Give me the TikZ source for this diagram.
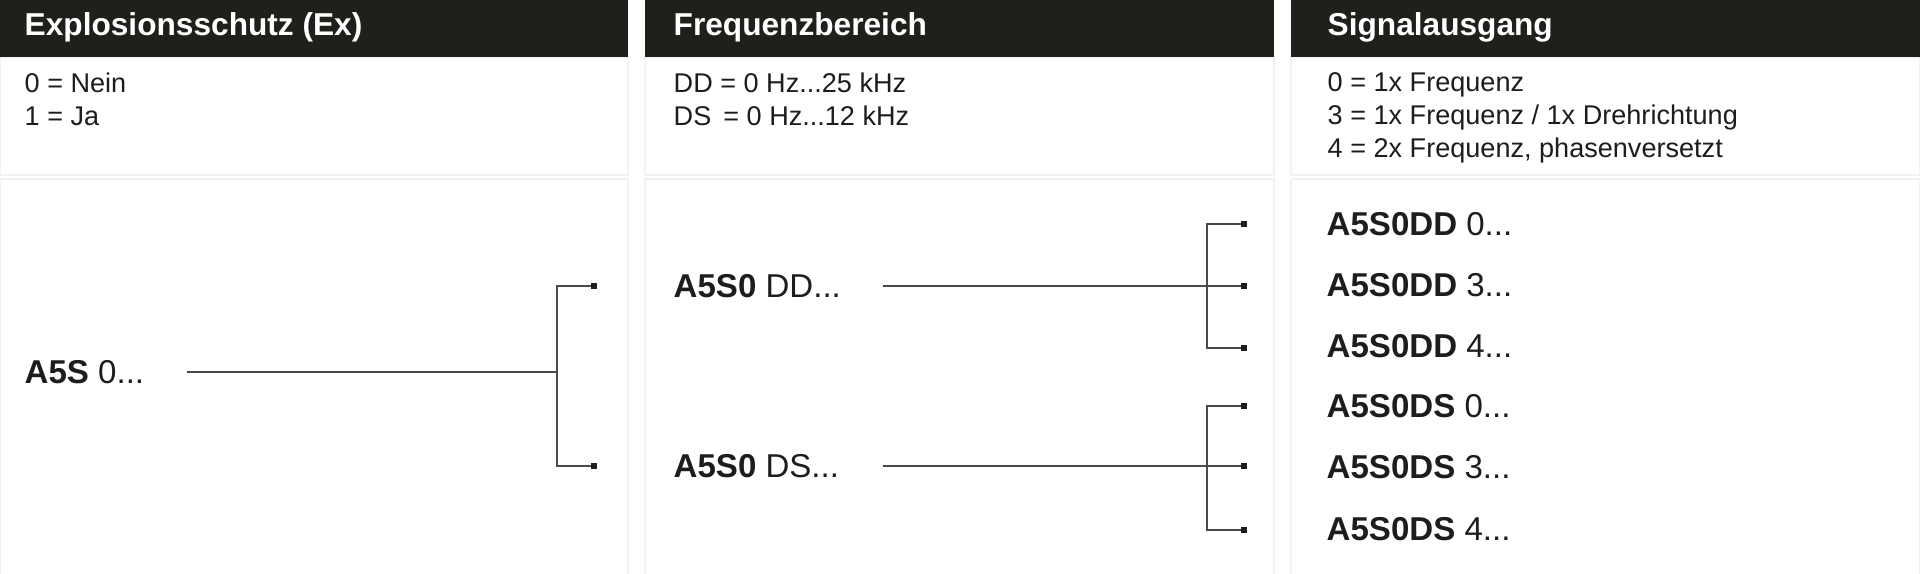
\documentclass[tikz,border=0pt]{standalone}
\usepackage{fontspec}
\setmainfont{Liberation Sans}
\usetikzlibrary{positioning}

\definecolor{barfill}{HTML}{1F1F1B}
\definecolor{inkcol}{HTML}{1D1D1B}
\definecolor{rulecol}{HTML}{F2F2F2}
\definecolor{linkcol}{HTML}{4A4A4A}

\tikzset{
  head/.style={anchor=base west, inner sep=0pt, text=white, font=\fontsize{9}{11}\selectfont\bfseries},
  desc/.style={anchor=north west, inner sep=0pt, align=left, text=inkcol, font=\fontsize{7.7}{9.4}\selectfont},
  code/.style={anchor=west, inner sep=0pt, text=inkcol, font=\fontsize{9.4}{11}\selectfont},
  link/.style={draw=linkcol, line width=0.4pt},
  endmark/.style={fill=inkcol, inner sep=0pt, minimum size=0.055cm},
  panel/.style={draw=rulecol, fill=white, line width=0.3pt}
}

\begin{document}
\begin{tikzpicture}[x=0.01cm, y=-0.01cm]
  \useasboundingbox (0,0) rectangle (1920,574);

  % Columns
  \foreach \xa/\xb in {0/628, 645/1274, 1291/1920} {
    \draw[panel] (\xa,57.5) rectangle (\xb,175);
    \draw[panel] (\xa,179) rectangle (\xb,590);
    \fill[barfill] (\xa,0) rectangle (\xb,57.5);
  }

  % Headers
  \node[head] (exH) at (24,36) {Explosionsschutz (Ex)};
  \node[head] (freqH) at (673,36) {Frequenzbereich};
  \node[head] (sigH) at (1327,36) {Signalausgang};

  % Descriptions
  \node[desc] (exD) at (24,72) {0 = Nein\\1 = Ja};
  \node[desc] (freqD) at (673,72) {DD = 0 Hz...25 kHz\\DS\,\ = 0 Hz...12 kHz};
  \node[desc] (sigD) at (1327,72) {0 = 1x Frequenz\\3 = 1x Frequenz / 1x Drehrichtung\\4 = 2x Frequenz, phasenversetzt};

  % Codes
  \node[code] (a5s) at (24,372) {\textbf{A5S} 0...};
  \node[code] (a5s0dd) at (673,286) {\textbf{A5S0} DD...};
  \node[code] (a5s0ds) at (673,466) {\textbf{A5S0} DS...};
  \node[code] (dd0) at (1326,224) {\textbf{A5S0DD} 0...};
  \node[code] (dd3) at (1326,285) {\textbf{A5S0DD} 3...};
  \node[code] (dd4) at (1326,346) {\textbf{A5S0DD} 4...};
  \node[code] (ds0) at (1326,406) {\textbf{A5S0DS} 0...};
  \node[code] (ds3) at (1326,467) {\textbf{A5S0DS} 3...};
  \node[code] (ds4) at (1326,529) {\textbf{A5S0DS} 4...};

  % Branch points
  \coordinate (exOut) at (187,372);
  \coordinate (exJ) at (557,372);
  \coordinate (ddOut) at (883,286);
  \coordinate (ddJ) at (1207,286);
  \coordinate (dsOut) at (883,466);
  \coordinate (dsJ) at (1207,466);

  % End marks
  \node[endmark] (exM1) at (594,286) {};
  \node[endmark] (exM2) at (594,466) {};
  \node[endmark] (ddM0) at (1244,224) {};
  \node[endmark] (ddM3) at (1244,286) {};
  \node[endmark] (ddM4) at (1244,348) {};
  \node[endmark] (dsM0) at (1244,406) {};
  \node[endmark] (dsM3) at (1244,466) {};
  \node[endmark] (dsM4) at (1244,530) {};

  % Edges
  \draw[link] (exOut) -- (exJ);
  \draw[link] (exJ) |- (exM1);
  \draw[link] (exJ) |- (exM2);
  \draw[link] (ddOut) -- (ddM3);
  \draw[link] (ddJ) |- (ddM0);
  \draw[link] (ddJ) |- (ddM4);
  \draw[link] (dsOut) -- (dsM3);
  \draw[link] (dsJ) |- (dsM0);
  \draw[link] (dsJ) |- (dsM4);
\end{tikzpicture}
\end{document}
